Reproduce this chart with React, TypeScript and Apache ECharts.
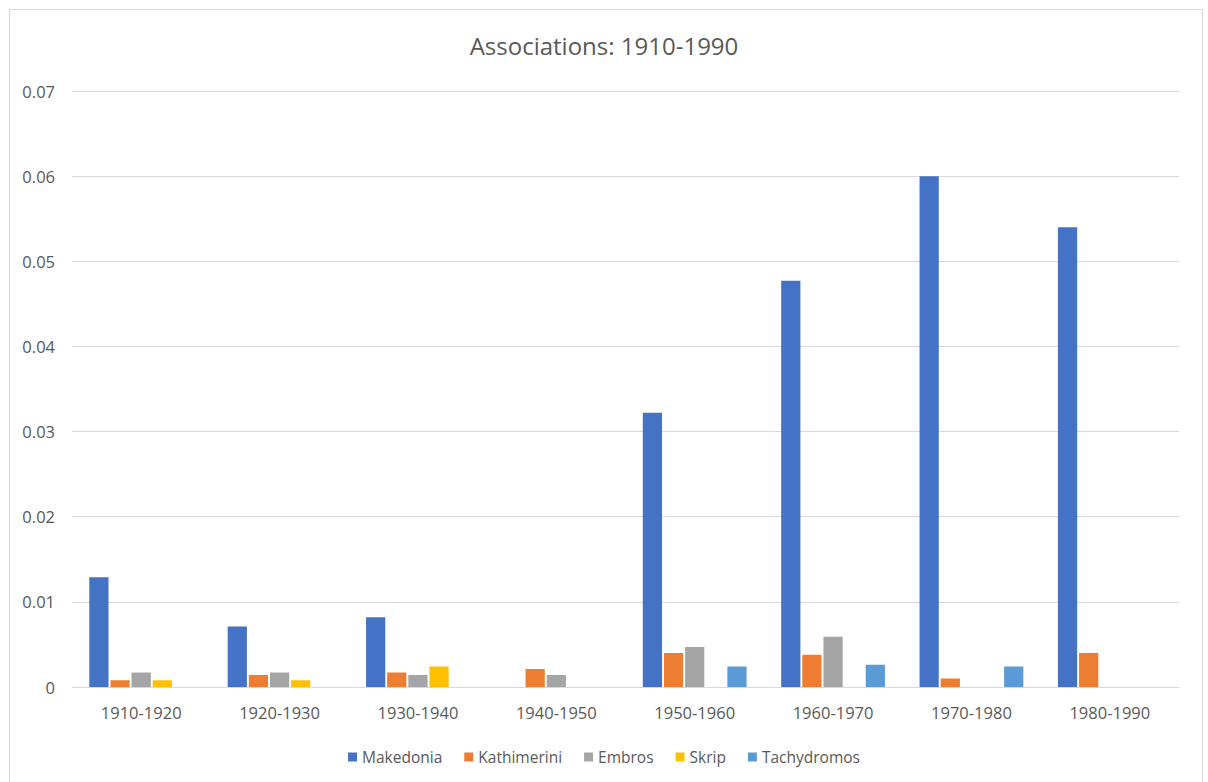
import React, { useEffect, useRef } from "react";
import * as echarts from "echarts";

// Decades on the category axis
const decades = [
  "1910-1920",
  "1920-1930",
  "1930-1940",
  "1940-1950",
  "1950-1960",
  "1960-1970",
  "1970-1980",
  "1980-1990",
];

// Association frequency per newspaper (null = no bar)
const makedonia = [0.0129, 0.0071, 0.0082, null, 0.0322, 0.0477, 0.06, 0.054];
const kathimerini = [0.0008, 0.0014, 0.0017, 0.0021, 0.004, 0.0038, 0.001, 0.004];
const embros = [0.0017, 0.0017, 0.0014, 0.0014, 0.0047, 0.0059, null, null];
const skrip = [0.0008, 0.0008, 0.0024, null, null, null, null, null];
const tachydromos = [null, null, null, null, 0.0024, 0.0026, 0.0024, null];

const seriesDefs = [
  { name: "Makedonia", data: makedonia, color: "#4472C4" },
  { name: "Kathimerini", data: kathimerini, color: "#ED7D31" },
  { name: "Embros", data: embros, color: "#A5A5A5" },
  { name: "Skrip", data: skrip, color: "#FFC000" },
  { name: "Tachydromos", data: tachydromos, color: "#5B9BD5" },
];

const textColor = "#595959";
const fontFamily = "'Open Sans', 'Liberation Sans', sans-serif";

export default function App() {
  const ref = useRef<HTMLDivElement>(null);

  useEffect(() => {
    if (!ref.current) return;
    const chart = echarts.init(ref.current, undefined, { renderer: "svg" });
    chart.setOption({
      animation: false,
      backgroundColor: "#ffffff",
      textStyle: { fontFamily },
      title: {
        text: "Associations: 1910-1990",
        left: "center",
        top: 28,
        textStyle: {
          color: textColor,
          fontSize: 24,
          fontWeight: "normal",
          fontFamily,
        },
      },
      graphic: [
        {
          type: "rect",
          shape: { x: 9.5, y: 9.5, width: 1193, height: 790 },
          style: { fill: "none", stroke: "#d9d9d9", lineWidth: 1 },
          silent: true,
        },
      ],
      legend: {
        top: 744,
        left: "center",
        itemWidth: 9,
        itemHeight: 9,
        itemGap: 22,
        icon: "rect",
        textStyle: { color: textColor, fontSize: 15.5, fontFamily },
        data: seriesDefs.map((s) => s.name),
      },
      grid: { left: 72, right: 29, top: 91, bottom: 95, containLabel: false },
      xAxis: {
        type: "category",
        data: decades,
        axisLine: { show: true, lineStyle: { color: "#d9d9d9", width: 1 } },
        axisTick: { show: false },
        axisLabel: { color: textColor, fontSize: 16.5, margin: 17, fontFamily },
      },
      yAxis: {
        type: "value",
        min: 0,
        max: 0.07,
        interval: 0.01,
        axisLine: { show: false },
        axisTick: { show: false },
        splitLine: { lineStyle: { color: "#d9d9d9", width: 1 } },
        axisLabel: {
          color: textColor,
          fontSize: 16.5,
          margin: 17,
          fontFamily,
          formatter: (v: number) => (v === 0 ? "0" : v.toFixed(2)),
        },
      },
      series: seriesDefs.map((s) => ({
        name: s.name,
        type: "bar",
        data: s.data,
        itemStyle: { color: s.color },
        barGap: "10%",
        barCategoryGap: "25%",
      })),
    });
    return () => chart.dispose();
  }, []);

  return (
    <div
      ref={ref}
      style={{ position: "absolute", left: 0, top: 0, width: 1208, height: 782 }}
    />
  );
}
